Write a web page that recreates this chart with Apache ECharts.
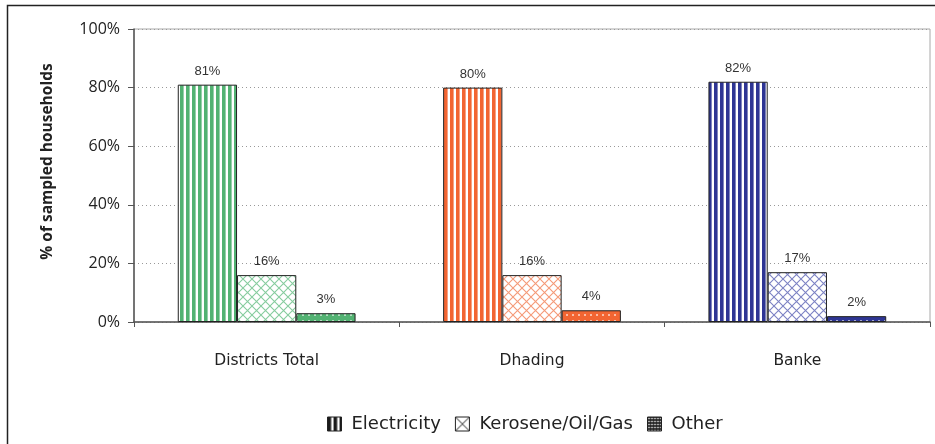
<!DOCTYPE html>
<html>
<head>
<meta charset="utf-8">
<title>Lighting source by district</title>
<script src="https://cdn.jsdelivr.net/npm/echarts@6/dist/echarts.min.js"></script>
<style>
  html, body { margin: 0; padding: 0; background: #fff; }
  #chart { width: 935px; height: 444px; }
</style>
</head>
<body>
<div id="chart"></div>
<script>
// Main lighting source of sampled households, by district
const categories = ['Districts Total', 'Dhading', 'Banke'];
const electricity = [81, 80, 82];
const kerosene = [16, 16, 17];
const other = [3, 4, 2];
const seriesNames = ['Electricity', 'Kerosene/Oil/Gas', 'Other'];

// one colour family per district
const districtColors = ['#52b272', '#f26532', '#2e3594'];
const hatchColors = ['#86cc9e', '#f59a78', '#7c82c4'];

const uiFont = '"Open Sans", Lato, sans-serif';
const wideFont = '"DejaVu Sans", "Open Sans", sans-serif';

function makeCanvas(w, h) {
  const c = document.createElement('canvas');
  c.width = w; c.height = h;
  return c;
}

// vertical stripes
function stripes(color) {
  const c = makeCanvas(6, 6);
  const g = c.getContext('2d');
  g.fillStyle = '#ffffff';
  g.fillRect(0, 0, 6, 6);
  g.fillStyle = color;
  g.fillRect(0, 0, 3.6, 6);
  return { image: c, repeat: 'repeat' };
}

// diagonal cross hatch
function hatch(color, s) {
  s = s || 9;
  const c = makeCanvas(s, s);
  const g = c.getContext('2d');
  g.fillStyle = '#ffffff';
  g.fillRect(0, 0, s, s);
  g.strokeStyle = color;
  g.lineWidth = 1.1;
  g.beginPath();
  g.moveTo(0, 0); g.lineTo(s, s);
  g.moveTo(s, 0); g.lineTo(0, s);
  g.stroke();
  return { image: c, repeat: 'repeat' };
}

// solid fill with small white dots
function dots(color, step) {
  step = step || 6;
  const c = makeCanvas(step, step);
  const g = c.getContext('2d');
  g.fillStyle = color;
  g.fillRect(0, 0, step, step);
  g.fillStyle = '#ffffff';
  g.fillRect(step / 2 - 0.75, step / 2 - 0.75, 1.5, 1.5);
  return { image: c, repeat: 'repeat' };
}

const legendInk = '#1a1a1a';
const makers = [
  (i) => stripes(districtColors[i]),
  (i) => hatch(hatchColors[i]),
  (i) => dots(districtColors[i])
];
const legendFills = [stripes(legendInk), hatch('#666666', 14), dots(legendInk, 3)];
const values = [electricity, kerosene, other];

const chart = echarts.init(document.getElementById('chart'), null, { renderer: 'canvas' });

const series = seriesNames.map((name, s) => ({
  name: name,
  type: 'bar',
  barGap: '0%',
  barCategoryGap: '33%',
  itemStyle: { color: legendFills[s], borderColor: '#222', borderWidth: 1 },
  label: {
    show: true,
    position: 'top',
    distance: 7,
    formatter: '{c}%',
    fontFamily: 'Liberation Sans, Arial, sans-serif',
    fontSize: 13,
    color: '#333'
  },
  data: values[s].map((v, i) => ({
    value: v,
    itemStyle: { color: makers[s](i), borderColor: '#222', borderWidth: 1 }
  }))
}));

chart.setOption({
  animation: false,
  backgroundColor: '#ffffff',
  textStyle: { fontFamily: uiFont },
  grid: {
    left: 134, right: 5, top: 29, bottom: 122,
    show: true, borderColor: '#a8a8a8', borderWidth: 1, backgroundColor: 'transparent'
  },
  graphic: [{
    type: 'rect',
    silent: true,
    shape: { x: 7.5, y: 5.5, width: 1200, height: 1200 },
    style: { fill: 'none', stroke: '#222', lineWidth: 1.5 }
  }],
  legend: {
    data: seriesNames,
    left: 322,
    top: 410,
    icon: 'rect',
    itemWidth: 14,
    itemHeight: 14,
    itemGap: 14,
    itemStyle: { borderColor: '#222', borderWidth: 1 },
    textStyle: { fontFamily: wideFont, fontSize: 18, color: '#222', padding: [0, 0, 0, 5] }
  },
  xAxis: {
    type: 'category',
    data: categories,
    axisLine: { lineStyle: { color: '#555', width: 1.5 } },
    axisTick: { show: true, length: 5, interval: 0, lineStyle: { color: '#555' } },
    axisLabel: { margin: 31, fontSize: 15.5, color: '#222', fontFamily: wideFont }
  },
  yAxis: {
    type: 'value',
    min: 0, max: 100, interval: 20,
    name: '% of sampled households',
    nameLocation: 'middle',
    nameGap: 78,
    nameRotate: 90,
    nameTextStyle: {
      fontSize: 15.5, fontWeight: 'bold', color: '#222', fontFamily: uiFont,
      padding: [0, 0, 0, 28]
    },
    axisLine: { show: true, lineStyle: { color: '#555', width: 1.5 } },
    axisTick: { show: true, length: 6, lineStyle: { color: '#555' } },
    axisLabel: { formatter: '{value}%', margin: 14, fontSize: 16, color: '#222', fontFamily: uiFont },
    splitLine: { show: true, lineStyle: { color: '#999', type: [1, 3], width: 1 } }
  },
  series: series
});
</script>
</body>
</html>
